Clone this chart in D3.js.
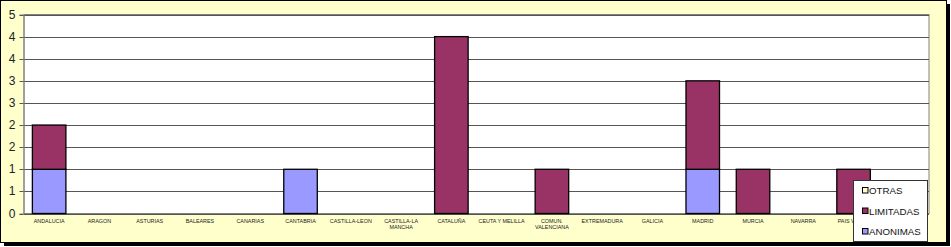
<!DOCTYPE html>
<html>
<head>
<meta charset="utf-8">
<script src="https://cdn.jsdelivr.net/npm/d3@7"></script>
<style>
  body { margin: 0; background: #fff; }
  svg { display: block; font-family: Arial, "Liberation Sans", sans-serif; }
</style>
</head>
<body>
<div id="chart"></div>
<script>
// categories (comunidades)
let regiones = ["ANDALUCIA", "ARAGON", "ASTURIAS", "BALEARES", "CANARIAS", "CANTABRIA",
  "CASTILLA-LEON", "CASTILLA-LA MANCHA", "CATALUÑA", "CEUTA Y MELILLA", "COMUN. VALENCIANA",
  "EXTREMADURA", "GALICIA", "MADRID", "MURCIA", "NAVARRA", "PAIS VASCO", "LA RIOJA"]

// label lines for the axis
let etiquetas = [["ANDALUCIA"], ["ARAGON"], ["ASTURIAS"], ["BALEARES"], ["CANARIAS"], ["CANTABRIA"],
  ["CASTILLA-LEON"], ["CASTILLA-LA", "MANCHA"], ["CATALUÑA"], ["CEUTA Y MELILLA"], ["COMUN.", "VALENCIANA"],
  ["EXTREMADURA"], ["GALICIA"], ["MADRID"], ["MURCIA"], ["NAVARRA"], ["PAIS VASCO"], ["LA RIOJA"]]

let anonimas  = [1, 0, 0, 0, 0, 1, 0, 0, 0, 0, 0, 0, 0, 1, 0, 0, 0, 0]
let limitadas = [1, 0, 0, 0, 0, 0, 0, 0, 4, 0, 1, 0, 0, 2, 1, 0, 1, 0]
let otras     = [0, 0, 0, 0, 0, 0, 0, 0, 0, 0, 0, 0, 0, 0, 0, 0, 0, 0]

let yTicks = [0, 0.5, 1, 1.5, 2, 2.5, 3, 3.5, 4, 4.5]
let series = ["ANONIMAS", "LIMITADAS", "OTRAS"]
let colores = {"ANONIMAS": "#9999FF", "LIMITADAS": "#993366", "OTRAS": "#FFFFCC"}

let W = 951, H = 247
let plot = {left: 24, top: 14.5, right: 929, bottom: 213.5}

let svg = d3.select("#chart").append("svg")
  .attr("width", W).attr("height", H)

// shadow + outer frame
svg.append("rect")
  .attr("x", 4).attr("y", 4).attr("width", 946).attr("height", 242)
  .attr("fill", "black")
svg.append("rect")
  .attr("x", 0.5).attr("y", 0.5).attr("width", 946).attr("height", 242)
  .attr("fill", "#FFFFCC").attr("stroke", "black")

let x = d3.scaleBand()
  .domain(regiones)
  .range([plot.left, plot.right])
  .paddingInner(1 / 3).paddingOuter(1 / 6)

let y = d3.scaleLinear()
  .domain([0, 4.5])
  .range([plot.bottom, plot.top])

// plot area
svg.append("rect")
  .attr("x", plot.left).attr("y", plot.top)
  .attr("width", plot.right - plot.left).attr("height", plot.bottom - plot.top)
  .attr("fill", "white").attr("stroke", "#808080")

// gridlines
svg.append("g").selectAll("line")
  .data(yTicks)
  .enter().append("line")
  .attr("x1", plot.left).attr("x2", plot.right)
  .attr("y1", d => Math.round(y(d)) + 0.5).attr("y2", d => Math.round(y(d)) + 0.5)
  .attr("stroke", "#555")

// y axis
let yAxis = d3.axisLeft(y)
  .tickValues(yTicks)
  .tickSize(4)
  .tickFormat(d => Math.round(d + 0.001))
let gy = svg.append("g")
  .attr("transform", `translate(${plot.left - 0.5},0)`)
  .call(yAxis)
gy.select(".domain").attr("stroke", "#808080")
gy.selectAll(".tick line").attr("stroke", "#555")
gy.selectAll(".tick").attr("transform", d => `translate(0,${Math.round(y(d)) + 0.5})`)
gy.selectAll(".tick text")
  .attr("x", -8)
  .style("font-size", "12px").style("fill", "#222")
  .style("font-family", "Arial, 'Liberation Sans', sans-serif")

// stacked bars
let tabla = regiones.map((r, i) => ({region: r, ANONIMAS: anonimas[i], LIMITADAS: limitadas[i], OTRAS: otras[i]}))
let stack = d3.stack().keys(series)(tabla)

svg.append("g").selectAll("g")
  .data(stack)
  .enter().append("g")
  .attr("fill", d => colores[d.key])
  .selectAll("rect")
  .data(d => d.filter(p => p[1] - p[0] > 0))
  .enter().append("rect")
  .attr("x", d => x(d.data.region))
  .attr("width", x.bandwidth())
  .attr("y", d => y(d[1]))
  .attr("height", d => y(d[0]) - y(d[1]))
  .attr("stroke", "black").attr("stroke-width", 1.3)

// category labels
let gx = svg.append("g")
regiones.forEach((r, i) => {
  let t = gx.append("text")
    .attr("x", x(r) + x.bandwidth() / 2)
    .attr("y", 222.5)
    .attr("text-anchor", "middle")
    .style("font-size", "5.4px").style("fill", "#222")
  etiquetas[i].forEach((l, k) => {
    t.append("tspan").attr("x", x(r) + x.bandwidth() / 2).attr("dy", k == 0 ? 0 : 6).text(l)
  })
})

// legend
let leg = svg.append("g").attr("transform", "translate(853.5,180.5)")
leg.append("rect")
  .attr("width", 74).attr("height", 61)
  .attr("fill", "white").attr("stroke", "#333")
let legItems = ["OTRAS", "LIMITADAS", "ANONIMAS"]
leg.selectAll("g.item")
  .data(legItems)
  .enter().append("g")
  .attr("class", "item")
  .attr("transform", (d, i) => `translate(9,${10 + i * 20.5})`)
  .each(function(d) {
    let g = d3.select(this)
    g.append("rect").attr("x", 0).attr("y", -3).attr("width", 5.5).attr("height", 5.5)
      .attr("fill", colores[d]).attr("stroke", "black")
    g.append("text").attr("x", 6.5).attr("y", 3.8)
      .style("font-size", "9.7px").style("fill", "#111")
      .text(d)
  })
</script>
</body>
</html>
